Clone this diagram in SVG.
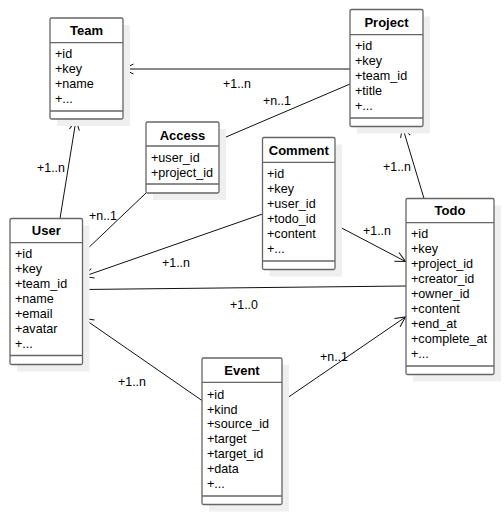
<svg xmlns="http://www.w3.org/2000/svg" width="504" height="515" viewBox="0 0 504 515">
<defs>
<marker id="open" viewBox="0 0 12 12" refX="11" refY="6" markerWidth="12" markerHeight="12" markerUnits="userSpaceOnUse" orient="auto">
<path d="M1,1 L11,6 L1,11" fill="none" stroke="#111" stroke-width="1"/>
</marker>
</defs>
<style>
.sh{fill:#efefef;stroke:none}
.bx{fill:#fff;stroke:#666;stroke-width:1.3}
.sep{stroke:#666;stroke-width:1.3}
.t{font-family:"Liberation Sans",Arial,sans-serif;font-weight:bold;font-size:13px;fill:#000;text-anchor:middle}
.a{font-family:"Liberation Sans",Arial,sans-serif;font-size:12.6px;fill:#000}
.l{font-family:"Liberation Sans",Arial,sans-serif;font-size:12.4px;fill:#000}
.c{stroke:#111;stroke-width:1;fill:none}
.ar{marker-end:url(#open)}
</style>
<rect width="504" height="515" fill="#fff"/>

<g id="connectors">
<line class="c ar" x1="350" y1="69" x2="123.5" y2="69"/>
<line class="c" x1="219" y1="140" x2="350" y2="84"/>
<line class="c" x1="146" y1="193" x2="83" y2="253"/>
<line class="c ar" x1="60" y1="218.5" x2="76" y2="120"/>
<line class="c ar" x1="262.5" y1="214" x2="83.5" y2="276.5"/>
<line class="c ar" x1="335" y1="224.5" x2="405.5" y2="261.5"/>
<line class="c ar" x1="424" y1="198.5" x2="402.5" y2="127"/>
<line class="c" x1="82.5" y1="289.5" x2="406" y2="286"/>
<line class="c ar" x1="202" y1="400.5" x2="83.5" y2="318.5"/>
<line class="c ar" x1="282" y1="401.5" x2="405.5" y2="317"/>
<text class="l" x="223" y="87.5">+1..n</text>
<text class="l" x="263" y="104.5">+n..1</text>
<text class="l" x="89" y="219.5">+n..1</text>
<text class="l" x="37" y="171.5">+1..n</text>
<text class="l" x="162" y="267">+1..n</text>
<text class="l" x="363" y="234.5">+1..n</text>
<text class="l" x="383" y="171">+1..n</text>
<text class="l" x="230" y="308.5">+1..0</text>
<text class="l" x="118" y="386">+1..n</text>
<text class="l" x="320" y="361">+n..1</text>
</g>

<g id="team">
<rect class="sh" x="57" y="25" width="73" height="101"/>
<rect class="bx" x="50" y="18" width="73" height="101" rx="1.5"/>
<line class="sep" x1="50" y1="42.7" x2="123" y2="42.7"/>
<line class="sep" x1="50" y1="111" x2="123" y2="111"/>
<text class="t" x="86.5" y="35">Team</text>
<text class="a" x="55" y="57.8">+id</text>
<text class="a" x="55" y="72.8">+key</text>
<text class="a" x="55" y="87.8">+name</text>
<text class="a" x="55" y="102.8">+...</text>
</g>

<g id="project">
<rect class="sh" x="357" y="16.5" width="73" height="117"/>
<rect class="bx" x="350" y="9.5" width="73" height="117" rx="1.5"/>
<line class="sep" x1="350" y1="34.7" x2="423" y2="34.7"/>
<line class="sep" x1="350" y1="118" x2="423" y2="118"/>
<text class="t" x="386.5" y="27">Project</text>
<text class="a" x="355" y="49.5">+id</text>
<text class="a" x="355" y="64.5">+key</text>
<text class="a" x="355" y="79.5">+team_id</text>
<text class="a" x="355" y="94.5">+title</text>
<text class="a" x="355" y="109.5">+...</text>
</g>

<g id="access">
<rect class="sh" x="153" y="129" width="73" height="71"/>
<rect class="bx" x="146" y="122" width="73" height="71" rx="1.5"/>
<line class="sep" x1="146" y1="146" x2="219" y2="146"/>
<line class="sep" x1="146" y1="184" x2="219" y2="184"/>
<text class="t" x="182.5" y="139.5">Access</text>
<text class="a" x="151" y="161.5">+user_id</text>
<text class="a" x="151" y="176.5">+project_id</text>
</g>

<g id="comment">
<rect class="sh" x="269.5" y="144.5" width="72.5" height="132"/>
<rect class="bx" x="262.5" y="137.5" width="72.5" height="132" rx="1.5"/>
<line class="sep" x1="262.5" y1="162.3" x2="335" y2="162.3"/>
<line class="sep" x1="262.5" y1="261" x2="335" y2="261"/>
<text class="t" x="298.75" y="155">Comment</text>
<text class="a" x="267" y="177.8">+id</text>
<text class="a" x="267" y="192.8">+key</text>
<text class="a" x="267" y="207.8">+user_id</text>
<text class="a" x="267" y="222.8">+todo_id</text>
<text class="a" x="267" y="237.8">+content</text>
<text class="a" x="267" y="252.8">+...</text>
</g>

<g id="user">
<rect class="sh" x="17" y="225.5" width="72.5" height="146"/>
<rect class="bx" x="10" y="218.5" width="72.5" height="146" rx="1.5"/>
<line class="sep" x1="10" y1="242.7" x2="82.5" y2="242.7"/>
<line class="sep" x1="10" y1="355.5" x2="82.5" y2="355.5"/>
<text class="t" x="46.25" y="235">User</text>
<text class="a" x="15" y="257.8">+id</text>
<text class="a" x="15" y="272.8">+key</text>
<text class="a" x="15" y="287.8">+team_id</text>
<text class="a" x="15" y="302.8">+name</text>
<text class="a" x="15" y="317.8">+email</text>
<text class="a" x="15" y="332.8">+avatar</text>
<text class="a" x="15" y="347.8">+...</text>
</g>

<g id="todo">
<rect class="sh" x="413" y="205.5" width="88" height="176"/>
<rect class="bx" x="406" y="198.5" width="88" height="176" rx="1.5"/>
<line class="sep" x1="406" y1="222.7" x2="494" y2="222.7"/>
<line class="sep" x1="406" y1="366" x2="494" y2="366"/>
<text class="t" x="450" y="215">Todo</text>
<text class="a" x="411" y="237.8">+id</text>
<text class="a" x="411" y="252.8">+key</text>
<text class="a" x="411" y="267.8">+project_id</text>
<text class="a" x="411" y="282.8">+creator_id</text>
<text class="a" x="411" y="297.8">+owner_id</text>
<text class="a" x="411" y="312.8">+content</text>
<text class="a" x="411" y="327.8">+end_at</text>
<text class="a" x="411" y="342.8">+complete_at</text>
<text class="a" x="411" y="357.8">+...</text>
</g>

<g id="event">
<rect class="sh" x="209" y="365" width="80" height="146.5"/>
<rect class="bx" x="202" y="358" width="80" height="146.5" rx="1.5"/>
<line class="sep" x1="202" y1="382.3" x2="282" y2="382.3"/>
<line class="sep" x1="202" y1="496" x2="282" y2="496"/>
<text class="t" x="242" y="375">Event</text>
<text class="a" x="207" y="398.8">+id</text>
<text class="a" x="207" y="413.6">+kind</text>
<text class="a" x="207" y="428.4">+source_id</text>
<text class="a" x="207" y="443.2">+target</text>
<text class="a" x="207" y="458">+target_id</text>
<text class="a" x="207" y="472.8">+data</text>
<text class="a" x="207" y="487.6">+...</text>
</g>
</svg>
